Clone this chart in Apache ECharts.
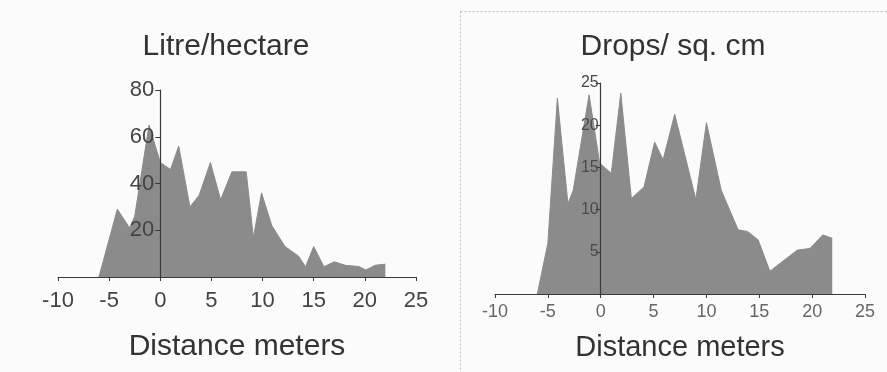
<!DOCTYPE html>
<html>
<head>
<meta charset="utf-8">
<script src="https://cdn.jsdelivr.net/npm/echarts@6/dist/echarts.min.js"></script>
<style>
  html, body { margin: 0; padding: 0; background: #fbfbfb; }
  #chart { width: 887px; height: 372px; }
</style>
</head>
<body>
<div id="chart"></div>
<script>
// Spray deposit across the swath: distance (m) vs. value
const litreDistance = [-6, -4.2, -3, -2.5, -1.1, 0, 1, 1.8, 2.9, 3.8, 4.9, 5.9, 7, 8.4, 9.1, 9.9, 10.9, 12.2, 13.5, 14.2, 15, 16, 17, 18.1, 19.4, 20.1, 21, 22];
const litrePerHectare = [0, 29, 21, 26, 65, 49, 46, 56, 30, 35, 49, 33, 45, 45, 17, 36, 22, 13, 9, 4.4, 13, 4.4, 6.5, 5, 4.5, 3, 5, 5.5];

const dropsDistance = [-6, -5, -4.1, -3.1, -2.6, -1.1, -0.1, 1, 1.9, 2.9, 4.1, 5.1, 5.9, 7, 9, 10, 11.4, 13, 13.9, 14.9, 16, 18.6, 19.8, 21, 21.9];
const dropsPerSqCm = [0, 6, 23.2, 10.7, 12.3, 23.6, 15.5, 14.3, 23.8, 11.3, 12.7, 18, 15.9, 21.3, 11.2, 20.3, 12.3, 7.6, 7.4, 6.4, 2.7, 5.2, 5.4, 7, 6.6];

const panelTitles = ['Litre/hectare', 'Drops/ sq. cm'];
const xAxisTitle = 'Distance meters';

const distanceRange = { min: -10, max: 25, interval: 5 };
const litreRange = { min: 0, max: 80, interval: 20 };
const dropsRange = { min: 0, max: 25, interval: 5 };

const pairs = (xs, ys) => xs.map((x, i) => [x, ys[i]]);

const FONT = '"Liberation Sans", Arial, sans-serif';
const FILL = '#8b8b8b';
const AXIS = '#3a3a3a';
const W = 887;

// plot rectangles for the two panels
const grids = [
  { left: 58, right: 471, top: 90, bottom: 95 },
  { left: 495, right: 22, top: 83, bottom: 78 }
];

// shift each vertical axis inward so it sits at distance 0
function zeroOffset(g) {
  const width = W - g.left - g.right;
  return -width * (0 - distanceRange.min) / (distanceRange.max - distanceRange.min);
}

const chart = echarts.init(document.getElementById('chart'), null, { renderer: 'canvas' });

chart.setOption({
  backgroundColor: '#fbfbfb',
  animation: false,
  grid: grids,
  xAxis: [
    {
      gridIndex: 0, type: 'value', z: 5,
      min: distanceRange.min, max: distanceRange.max, interval: distanceRange.interval,
      name: xAxisTitle, nameLocation: 'middle', nameGap: 55,
      nameTextStyle: { fontFamily: FONT, fontSize: 30, color: '#333' },
      axisLine: { onZero: true, lineStyle: { color: AXIS, width: 1.2 } },
      axisTick: { show: true, length: 4, lineStyle: { color: AXIS } },
      axisLabel: { margin: 13, fontFamily: FONT, fontSize: 22, color: '#444' },
      splitLine: { show: false }
    },
    {
      gridIndex: 1, type: 'value', z: 5,
      min: distanceRange.min, max: distanceRange.max, interval: distanceRange.interval,
      name: xAxisTitle, nameLocation: 'middle', nameGap: 39,
      nameTextStyle: { fontFamily: FONT, fontSize: 29, color: '#333' },
      axisLine: { onZero: true, lineStyle: { color: AXIS, width: 1.2 } },
      axisTick: { show: true, length: 4, lineStyle: { color: AXIS } },
      axisLabel: { margin: 9, fontFamily: FONT, fontSize: 18, color: '#666' },
      splitLine: { show: false }
    }
  ],
  yAxis: [
    {
      gridIndex: 0, type: 'value', z: 5, position: 'left', offset: zeroOffset(grids[0]),
      min: litreRange.min, max: litreRange.max, interval: litreRange.interval,
      axisLine: { show: true, onZero: false, lineStyle: { color: AXIS, width: 1.2 } },
      axisTick: { show: true, length: 5, lineStyle: { color: AXIS } },
      axisLabel: { margin: 6, showMinLabel: false, fontFamily: FONT, fontSize: 22, color: '#444' },
      splitLine: { show: false }
    },
    {
      gridIndex: 1, type: 'value', z: 5, position: 'left', offset: zeroOffset(grids[1]),
      min: dropsRange.min, max: dropsRange.max, interval: dropsRange.interval,
      axisLine: { show: true, onZero: false, lineStyle: { color: AXIS, width: 1.2 } },
      axisTick: { show: true, length: 5, lineStyle: { color: AXIS } },
      axisLabel: { margin: 2, showMinLabel: false, fontFamily: FONT, fontSize: 16, color: '#4a4a4a' },
      splitLine: { show: false }
    }
  ],
  series: [
    {
      type: 'line', xAxisIndex: 0, yAxisIndex: 0,
      data: pairs(litreDistance, litrePerHectare),
      symbol: 'none', z: 1,
      lineStyle: { color: FILL, width: 1 },
      areaStyle: { color: FILL, opacity: 1 }
    },
    {
      type: 'line', xAxisIndex: 1, yAxisIndex: 1,
      data: pairs(dropsDistance, dropsPerSqCm),
      symbol: 'none', z: 1,
      lineStyle: { color: FILL, width: 1 },
      areaStyle: { color: FILL, opacity: 1 }
    }
  ],
  graphic: [
    {
      type: 'text', x: 226, y: 47,
      style: { text: panelTitles[0], font: '30px ' + FONT, fill: '#333', textAlign: 'center', textVerticalAlign: 'middle' }
    },
    {
      type: 'text', x: 673, y: 47,
      style: { text: panelTitles[1], font: '30px ' + FONT, fill: '#333', textAlign: 'center', textVerticalAlign: 'middle' }
    },
    // dotted frame around the right panel
    {
      type: 'line', shape: { x1: 460.5, y1: 11.5, x2: 460.5, y2: 372 },
      style: { stroke: '#bdbdbd', lineWidth: 1, lineDash: [2, 2] }
    },
    {
      type: 'line', shape: { x1: 460.5, y1: 11.5, x2: 887, y2: 11.5 },
      style: { stroke: '#bdbdbd', lineWidth: 1, lineDash: [2, 2] }
    }
  ]
});
</script>
</body>
</html>
